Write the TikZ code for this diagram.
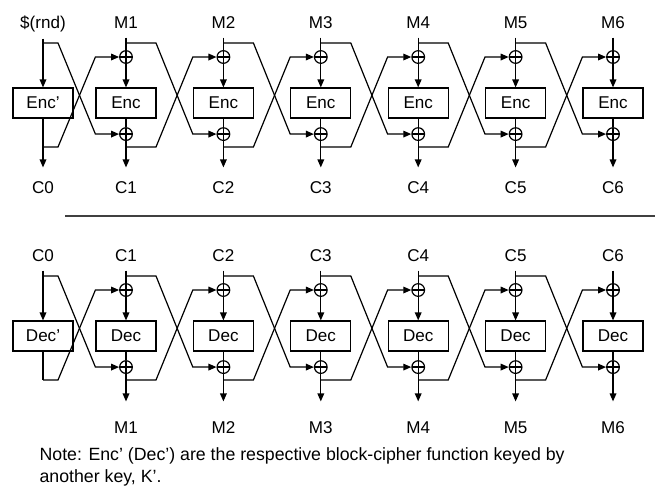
\documentclass[tikz,border=0pt]{standalone}
\usepackage{fontspec}
\setmainfont{Liberation Sans}
\usetikzlibrary{positioning, arrows.meta, calc}

\begin{document}
\begin{tikzpicture}[x=0.75pt, y=-0.75pt, >={Triangle[length=6pt, width=5pt]}, line width=0.9pt,
    font=\fontsize{12.8}{15}\selectfont,
    cipher/.style={draw, minimum width=45pt, minimum height=22.5pt, inner sep=0pt},
    xor/.style={circle, draw, minimum size=9.5pt, inner sep=0pt,
        path picture={\draw (path picture bounding box.north) -- (path picture bounding box.south)
                            (path picture bounding box.west) -- (path picture bounding box.east);}},
    io/.style={inner sep=0pt, minimum height=21pt}]
    \useasboundingbox (0,0) rectangle (655,487);

    % Encryption
    \node[cipher] (e0) at (43,103) {Enc’};
    \node[io] (p0) at (43,24) {\$(rnd)};
    \node[io] (c0) at (43,188) {C0};
    \coordinate (et0) at (43,43);
    \coordinate (es0) at (43,147);
    \draw[->] (p0) -- (e0);
    \draw[->, shorten >=4.5pt] (e0) -- (c0);
    \foreach \i in {1,...,6} {
        \pgfmathsetmacro\x{126+(\i-1)*97.4}
        \node[cipher] (e\i) at (\x,103) {Enc};
        \node[xor] (ea\i) [above=17.6pt of e\i] {};
        \node[xor] (eb\i) [below=6.4pt of e\i] {};
        \node[io] (p\i) at (\x,23) {M\i};
        \node[io] (c\i) at (\x,188) {C\i};
        \coordinate (et\i) at (\x,43);
        \coordinate (es\i) at (\x,147);
        \draw (p\i) -- (ea\i);
        \draw[->] (ea\i) -- (e\i);
        \draw (e\i) -- (eb\i);
        \draw[->, shorten >=4.5pt] (eb\i) -- (c\i);
    }
    \foreach \i/\j/\w in {0/1/15, 1/2/30, 2/3/30, 3/4/30, 4/5/30, 5/6/30} {
        \draw[->] (et\i) -- ++(\w,0) -- (e\j.west |- eb\j) -- (eb\j);
        \draw[->] (es\i) -- ++(\w,0) -- (e\j.west |- ea\j) -- (ea\j);
    }

    % Separator
    \draw[line width=1.3pt, black!75] (65,216) -- (655,216);

    % Decryption
    \node[cipher] (d0) at (43,336) {Dec’};
    \node[io] (q0) at (43,256) {C0};
    \coordinate (dt0) at (43,276);
    \coordinate (ds0) at (43,380);
    \draw[->] (q0) -- (d0);
    \draw (d0) -- (ds0);
    \foreach \i in {1,...,6} {
        \pgfmathsetmacro\x{126+(\i-1)*97.4}
        \node[cipher] (d\i) at (\x,336) {Dec};
        \node[xor] (da\i) [above=17.6pt of d\i] {};
        \node[xor] (db\i) [below=6.4pt of d\i] {};
        \node[io] (q\i) at (\x,256) {C\i};
        \node[io] (m\i) at (\x,428) {M\i};
        \coordinate (dt\i) at (\x,276);
        \coordinate (ds\i) at (\x,380);
        \draw (q\i) -- (da\i);
        \draw[->] (da\i) -- (d\i);
        \draw (d\i) -- (db\i);
        \draw[->, shorten >=9pt] (db\i) -- (m\i);
    }
    \foreach \i/\j/\w in {0/1/15, 1/2/30, 2/3/30, 3/4/30, 4/5/30, 5/6/30} {
        \draw[->] (dt\i) -- ++(\w,0) -- (d\j.west |- db\j) -- (db\j);
        \draw[->] (ds\i) -- ++(\w,0) -- (d\j.west |- da\j) -- (da\j);
    }

    % Note
    \node[anchor=north west, align=left, inner sep=0pt, font=\fontsize{13.3}{16.5}\selectfont] (note) at (39,447)
        {Note: Enc’ (Dec’) are the respective block-cipher function keyed by\\another key, K’.};
\end{tikzpicture}
\end{document}
